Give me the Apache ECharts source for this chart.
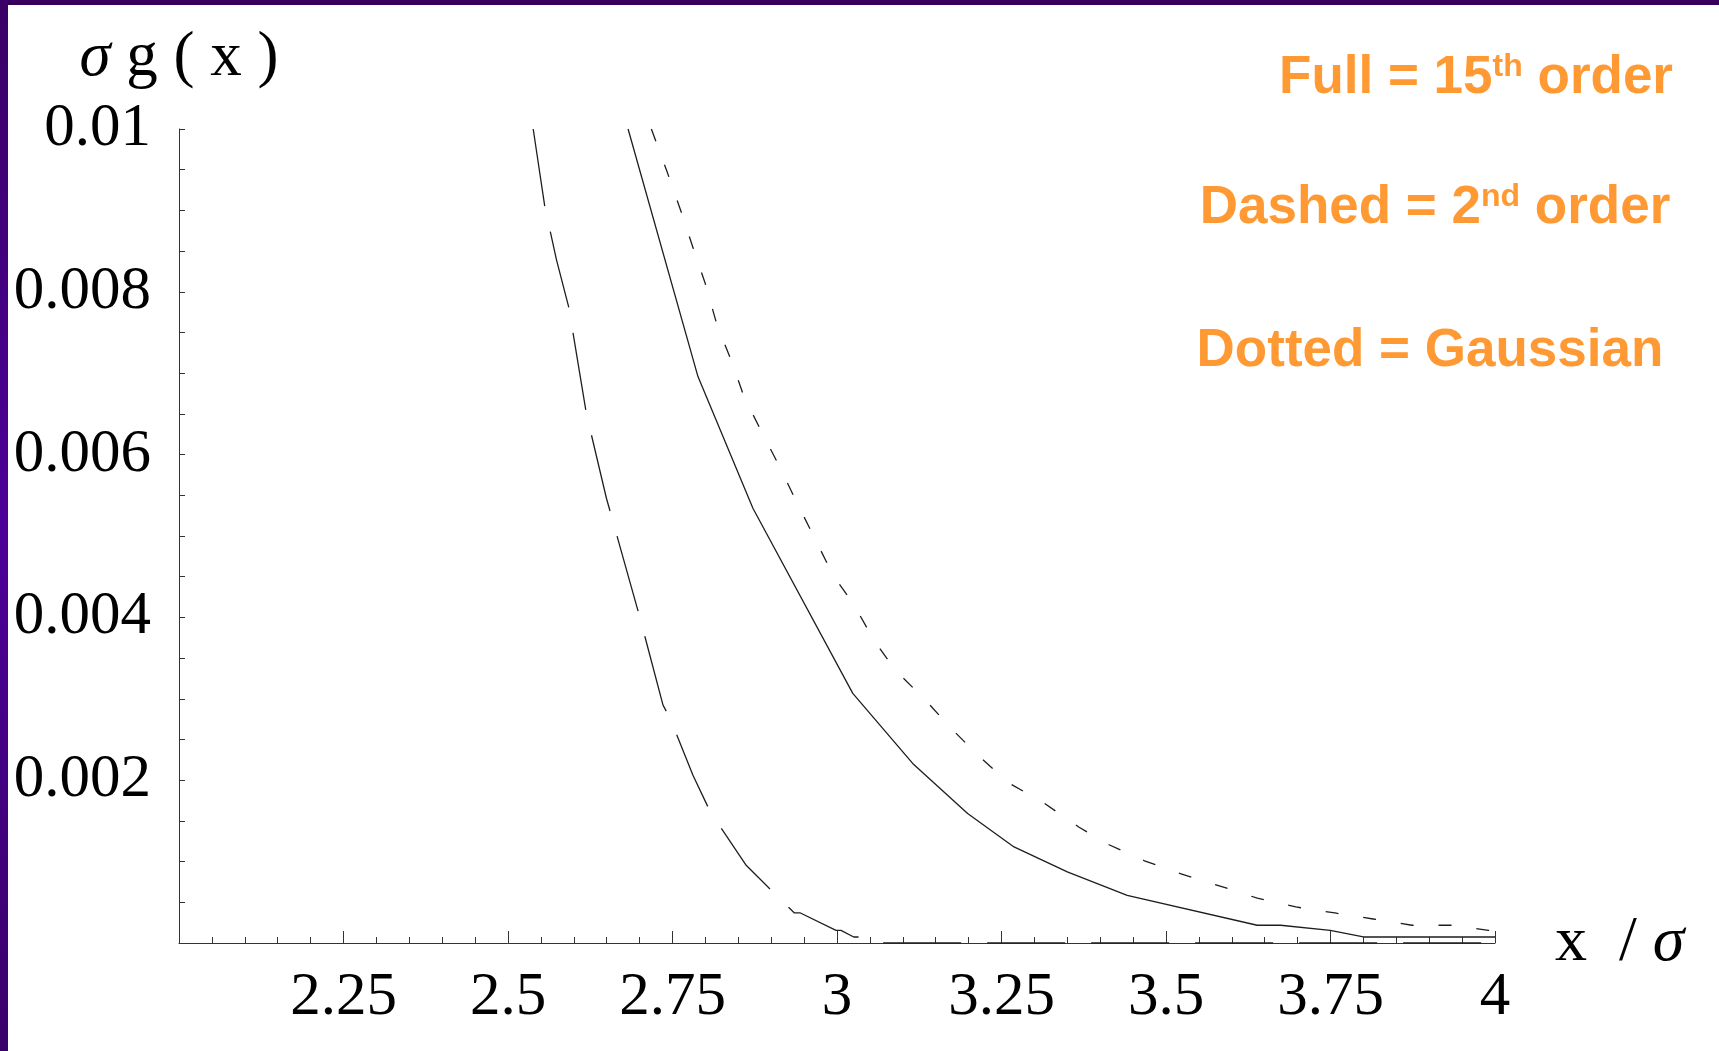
<!DOCTYPE html>
<html>
<head>
<meta charset="utf-8">
<script src="https://cdn.jsdelivr.net/npm/echarts@6/dist/echarts.min.js"></script>
<style>
html, body { margin: 0; padding: 0; background: #ffffff; }
#chart { width: 1719px; height: 1051px; }
</style>
</head>
<body>
<div id="chart"></div>
<script>
// ---- tick values and labels ----
const xTicks = [2.25, 2.5, 2.75, 3, 3.25, 3.5, 3.75, 4];
const xTickLabels = ['2.25', '2.5', '2.75', '3', '3.25', '3.5', '3.75', '4'];
const yTicks = [0.002, 0.004, 0.006, 0.008, 0.01];
const yTickLabels = ['0.002', '0.004', '0.006', '0.008', '0.01'];

// ---- Full = 15th order (solid) ----
const fullX = [2.6825, 2.7887, 2.8722, 3.0240, 3.1150, 3.1985, 3.2690, 3.3500, 3.4410, 3.6386, 3.6740, 3.7495, 3.8000, 4.0000];
const fullY = [0.010000, 0.006958, 0.005341, 0.003066, 0.002206, 0.001591, 0.001180, 0.000873, 0.000586, 0.000218, 0.000218, 0.000156, 0.000074, 0.000074];

// ---- Dashed = 2nd order (long dashes) ----
const dashedX = [2.5383, 2.5559, 2.5737, 2.5923, 2.6192, 2.6496, 2.7001, 2.7356, 2.7457, 2.7811, 2.8079, 2.8620, 2.9076, 2.9353, 2.9444, 2.9985, 3.0060, 3.0255, 3.0520, 3.0700, 4.0000];
const dashedY = [0.010000, 0.009049, 0.008393, 0.007812, 0.006500, 0.005464, 0.004008, 0.002922, 0.002771, 0.002062, 0.001603, 0.000955, 0.000587, 0.000369, 0.000369, 0.000156, 0.000156, 0.000074, 0.000074, 0.000000, 0.000000];

// ---- Dotted = Gaussian (short dashes) ----
const dottedX = [2.7179, 2.7411, 2.7634, 2.7812, 2.7998, 2.8176, 2.8397, 2.8586, 2.8859, 2.9133, 2.9399, 2.9671, 2.9937, 3.0252, 3.0563, 3.0882, 3.1337, 3.1739, 3.2149, 3.2604, 3.3151, 3.3679, 3.4134, 3.4673, 3.5217, 3.5847, 3.6388, 3.6972, 3.7567, 3.8148, 3.8736, 3.9370, 3.9900, 4.0000];
const dottedY = [0.010000, 0.009490, 0.008977, 0.008541, 0.008101, 0.007594, 0.007148, 0.006713, 0.006272, 0.005842, 0.005396, 0.004957, 0.004523, 0.004162, 0.003718, 0.003356, 0.002990, 0.002633, 0.002301, 0.001969, 0.001717, 0.001422, 0.001207, 0.001010, 0.000852, 0.000693, 0.000550, 0.000443, 0.000369, 0.000295, 0.000218, 0.000218, 0.000156, 0.000156];

// ---- annotation texts ----
const noteMain = ['Full = 15', 'Dashed = 2', 'Dotted = Gaussian'];
const noteSup = ['th', 'nd', ''];
const noteTail = [' order', ' order', ''];

function zip(xs, ys) { return xs.map((x, i) => [x, ys[i]]); }
function tickLabel(ticks, labels) {
  return function (v) {
    const i = ticks.findIndex(t => Math.abs(t - v) < 1e-9);
    return i >= 0 ? labels[i] : '';
  };
}

const serif = 'Liberation Serif';
const lineColor = '#1e1e1e';
const axisColor = '#333333';

const notePos = [
  { x: 1476, y: 78 },
  { x: 1435, y: 208 },
  { x: 1430, y: 351 }
];

const noteGraphics = noteMain.map((m, i) => ({
  type: 'text',
  x: notePos[i].x,
  y: notePos[i].y,
  z: 10,
  style: {
    text: '{m|' + m + '}' + (noteSup[i] ? '{s|' + noteSup[i] + '}' : '') + (noteTail[i] ? '{m|' + noteTail[i] + '}' : ''),
    textAlign: 'center',
    textVerticalAlign: 'middle',
    fill: '#FF9933',
    rich: {
      m: { fontFamily: 'Liberation Sans', fontWeight: 'bold', fontSize: 53, color: '#FF9933' },
      s: { fontFamily: 'Liberation Sans', fontWeight: 'bold', fontSize: 32, color: '#FF9933', verticalAlign: 'top' }
    }
  }
}));

const chart = echarts.init(document.getElementById('chart'), null, { renderer: 'canvas' });
chart.setOption({
  animation: false,
  backgroundColor: '#ffffff',
  grid: { left: 179, top: 129, width: 1316, height: 814, outerBoundsMode: 'none', containLabel: false },
  xAxis: {
    type: 'value',
    min: 2,
    max: 4,
    interval: 0.25,
    name: '{n|x  / }{s|σ}',
    nameLocation: 'end',
    nameGap: 60,
    nameTextStyle: {
      fontFamily: serif, fontSize: 64, color: '#000',
      rich: {
        n: { fontFamily: serif, fontSize: 64, color: '#000' },
        s: { fontFamily: serif, fontSize: 64, color: '#000', fontStyle: 'italic' }
      }
    },
    axisLine: { show: true, onZero: false, lineStyle: { color: axisColor, width: 1 } },
    axisTick: { show: true, inside: true, length: 12, lineStyle: { color: axisColor, width: 1 } },
    minorTick: { show: true, splitNumber: 5, length: 6, lineStyle: { color: axisColor, width: 1 } },
    splitLine: { show: false },
    minorSplitLine: { show: false },
    axisLabel: {
      show: true, margin: 24, color: '#000', fontFamily: serif, fontSize: 61,
      showMinLabel: false,
      formatter: tickLabel(xTicks, xTickLabels)
    }
  },
  yAxis: {
    type: 'value',
    min: 0,
    max: 0.01,
    interval: 0.002,
    name: '{s|σ}{n| g ( x )}',
    nameLocation: 'end',
    nameGap: 39,
    nameTextStyle: {
      fontFamily: serif, fontSize: 63, color: '#000',
      rich: {
        n: { fontFamily: serif, fontSize: 63, color: '#000' },
        s: { fontFamily: serif, fontSize: 63, color: '#000', fontStyle: 'italic' }
      }
    },
    axisLine: { show: true, onZero: false, lineStyle: { color: axisColor, width: 1 } },
    axisTick: { show: true, inside: true, length: 6, lineStyle: { color: axisColor, width: 1 } },
    minorTick: { show: true, splitNumber: 4, length: 6, lineStyle: { color: axisColor, width: 1 } },
    splitLine: { show: false },
    minorSplitLine: { show: false },
    axisLabel: {
      show: true, margin: 28, color: '#000', fontFamily: serif, fontSize: 61,
      showMinLabel: false,
      formatter: tickLabel(yTicks, yTickLabels)
    }
  },
  series: [
    {
      name: 'Full = 15th order', type: 'line', data: zip(fullX, fullY),
      showSymbol: false, symbol: 'none', clip: true, silent: true,
      lineStyle: { color: lineColor, width: 1.3, type: 'solid' }
    },
    {
      name: 'Dashed = 2nd order', type: 'line', data: zip(dashedX, dashedY),
      showSymbol: false, symbol: 'none', clip: true, silent: true,
      lineStyle: { color: lineColor, width: 1.3, type: [78, 26], cap: 'butt' }
    },
    {
      name: 'Dotted = Gaussian', type: 'line', data: zip(dottedX, dottedY),
      showSymbol: false, symbol: 'none', clip: true, silent: true,
      lineStyle: { color: lineColor, width: 1.3, type: [13, 25], cap: 'butt' }
    }
  ],
  graphic: [
    {
      type: 'rect', z: 20, silent: true,
      shape: { x: 0, y: 0, width: 1719, height: 5 },
      style: { fill: '#37005f' }
    },
    {
      type: 'rect', z: 20, silent: true,
      shape: { x: 0, y: 0, width: 8, height: 1051 },
      style: {
        fill: new echarts.graphic.LinearGradient(0, 0, 0, 1, [
          { offset: 0, color: '#3a0066' },
          { offset: 0.5, color: '#4d0098' },
          { offset: 1, color: '#3a006a' }
        ])
      }
    }
  ].concat(noteGraphics)
});
</script>
</body>
</html>
